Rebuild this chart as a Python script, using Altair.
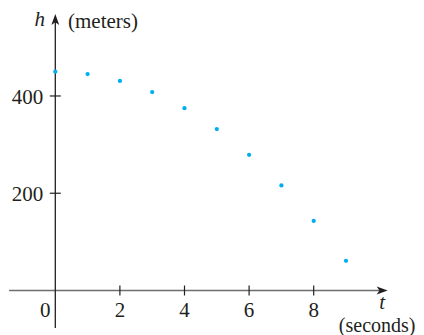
import altair as alt
import pandas as pd

# ---- data ----
t_values = [0, 1, 2, 3, 4, 5, 6, 7, 8, 9]
h_values = [450, 445, 431, 408, 375, 332, 279, 216, 143, 61]
x_ticks = [2, 4, 6, 8]
y_ticks = [200, 400]
x_tick_labels = ["2", "4", "6", "8"]
y_tick_labels = ["200", "400"]

# axis extents (data units)
t_axis_range = [-1.43, 10.12]
h_axis_range = [-77, 555]
t_arrow = 10.12
h_arrow = 557.3

W, H = 408, 327
xdom = [-1.4644, 11.1672]
ydom = [-91.5, 580.9]

FONT = "Liberation Serif"
FS = 21
TXT = "#231f20"

xs = alt.Scale(domain=xdom, nice=False, zero=False)
ys = alt.Scale(domain=ydom, nice=False, zero=False)

def X(f):
    return alt.X(f, type="quantitative", scale=xs, axis=None)

def Y(f):
    return alt.Y(f, type="quantitative", scale=ys, axis=None)

pts = pd.DataFrame({"t": t_values, "h": h_values})
points = alt.Chart(pts).mark_circle(size=18, color="#00aeef", opacity=1).encode(x=X("t"), y=Y("h"))

xline = alt.Chart(pd.DataFrame({"t": [t_axis_range[0]], "t2": [t_axis_range[1]], "h": [0]})).mark_rule(
    color="#6d6e70", strokeWidth=1.5
).encode(x=X("t"), x2="t2:Q", y=Y("h"))

yline = alt.Chart(pd.DataFrame({"t": [0], "h": [h_axis_range[0]], "h2": [h_axis_range[1]]})).mark_rule(
    color="#231f20", strokeWidth=1.3
).encode(x=X("t"), y=Y("h"), y2="h2:Q")

ARROW = "M0,-1L0.72,1L0,0.5L-0.72,1Z"
xarrow = alt.Chart(pd.DataFrame({"t": [t_arrow], "h": [0]})).mark_point(
    shape=ARROW, filled=True, size=121, angle=90, color="#231f20", opacity=1
).encode(x=X("t"), y=Y("h"))
yarrow = alt.Chart(pd.DataFrame({"t": [0], "h": [h_arrow]})).mark_point(
    shape=ARROW, filled=True, size=121, angle=0, color="#231f20", opacity=1
).encode(x=X("t"), y=Y("h"))

xtick_df = pd.DataFrame({"t": x_ticks, "h": [0] * len(x_ticks), "label": x_tick_labels})
ytick_df = pd.DataFrame({"t": [0] * len(y_ticks), "h": y_ticks, "label": y_tick_labels})

xticks = alt.Chart(xtick_df).mark_tick(orient="vertical", size=10, thickness=1.2, color="#231f20", opacity=1).encode(
    x=X("t"), y=Y("h"))
yticks = alt.Chart(ytick_df).mark_tick(orient="horizontal", size=11, thickness=1.2, color="#231f20", opacity=1).encode(
    x=X("t"), y=Y("h"))

xlabels = alt.Chart(xtick_df).mark_text(font=FONT, fontSize=FS, color=TXT, align="center",
                                         baseline="alphabetic", dy=26).encode(x=X("t"), y=Y("h"), text="label:N")
ylabels = alt.Chart(ytick_df).mark_text(font=FONT, fontSize=FS, color=TXT, align="right",
                                         baseline="alphabetic", dx=-12, dy=8).encode(x=X("t"), y=Y("h"), text="label:N")

origin = pd.DataFrame({"t": [0], "h": [0], "label": ["0"]})
zero_label = alt.Chart(origin).mark_text(font=FONT, fontSize=FS, color=TXT, align="center",
                                          baseline="alphabetic", dx=-10, dy=26).encode(x=X("t"), y=Y("h"), text="label:N")

htitle_df = pd.DataFrame({"t": [0], "h": [h_arrow], "a": ["h"], "b": ["(meters)"]})
ttitle_df = pd.DataFrame({"t": [t_arrow], "h": [0], "a": ["t"], "b": ["(seconds)"]})

h_title = alt.Chart(htitle_df).mark_text(font=FONT, fontSize=FS, fontStyle="italic", color=TXT, align="center",
                                          baseline="alphabetic", dx=-15.5, dy=6.5).encode(x=X("t"), y=Y("h"), text="a:N")
h_unit = alt.Chart(htitle_df).mark_text(font=FONT, fontSize=FS, color=TXT, align="left",
                                         baseline="alphabetic", dx=12.7, dy=8.5).encode(x=X("t"), y=Y("h"), text="b:N")
t_title = alt.Chart(ttitle_df).mark_text(font=FONT, fontSize=FS, fontStyle="italic", color=TXT, align="center",
                                          baseline="alphabetic", dx=0, dy=18.5).encode(x=X("t"), y=Y("h"), text="a:N")
t_unit = alt.Chart(ttitle_df).mark_text(font=FONT, fontSize=20, color=TXT, align="center",
                                         baseline="alphabetic", dx=-5, dy=41).encode(x=X("t"), y=Y("h"), text="b:N")

chart = alt.layer(
    xline, yline, xticks, yticks, xarrow, yarrow, points,
    xlabels, ylabels, zero_label, h_title, h_unit, t_title, t_unit
).properties(
    width=W, height=H, padding=0, autosize=alt.AutoSizeParams(type="none"), background="white"
).configure_view(stroke=None)

chart.save("out.html", embed_options={"renderer": "svg", "actions": False})
